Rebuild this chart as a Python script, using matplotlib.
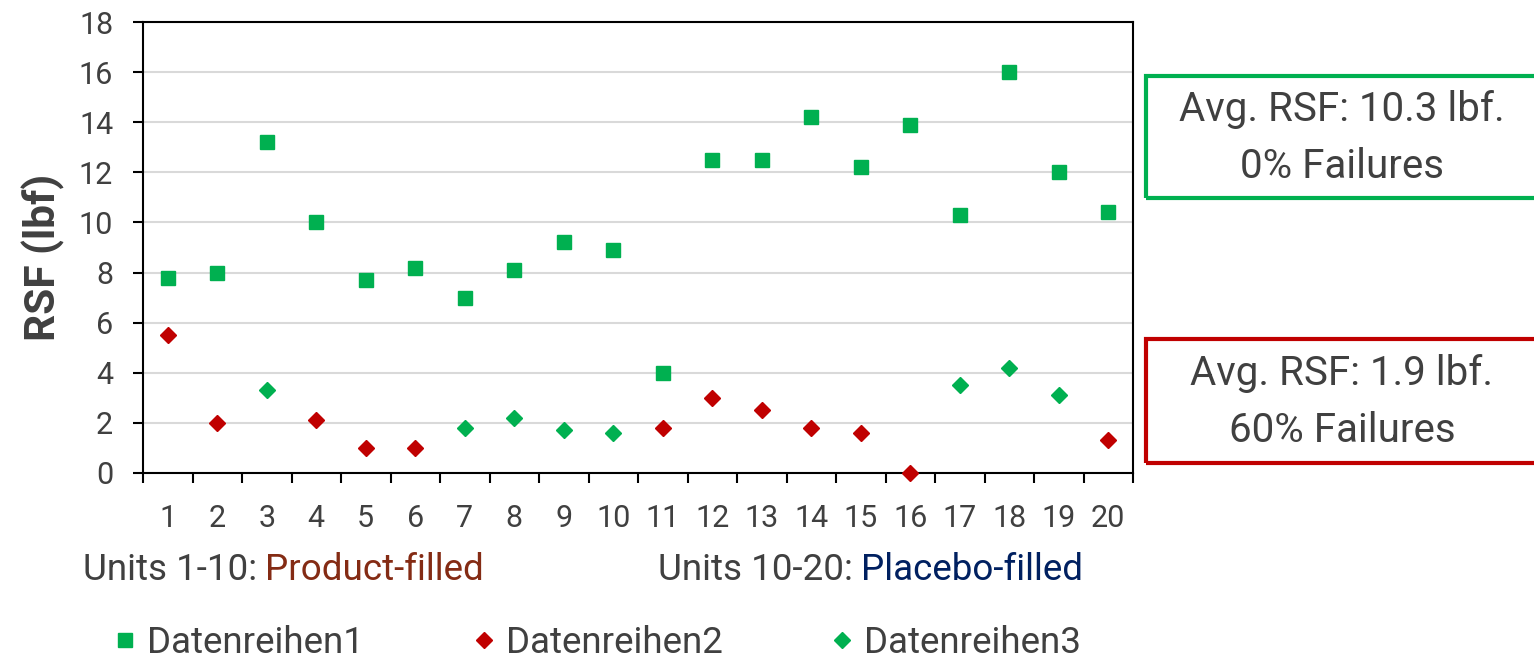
#!/usr/bin/env python3

import numpy as np
import matplotlib.pyplot as plt
from matplotlib.patches import Rectangle

plt.rcParams['font.family'] = ['Roboto', 'DejaVu Sans']

units = np.arange(1, 21)

rsf_1 = [7.8, 8.0, 13.2, 10.0, 7.7, 8.2, 7.0, 8.1, 9.2, 8.9,
         4.0, 12.5, 12.5, 14.2, 12.2, 13.9, 10.3, 16.0, 12.0, 10.4]
rsf_2 = [5.5, 2.0, None, 2.1, 1.0, 1.0, None, None, None, None,
         1.8, 3.0, 2.5, 1.8, 1.6, 0.0, None, None, None, 1.3]
rsf_3 = [None, None, 3.3, None, None, None, 1.8, 2.2, 1.7, 1.6,
         None, None, None, None, None, None, 3.5, 4.2, 3.1, None]

names = ['Datenreihen1', 'Datenreihen2', 'Datenreihen3']

box_good = 'Avg. RSF: 10.3 lbf.\n0% Failures'
box_bad = 'Avg. RSF: 1.9 lbf.\n60% Failures'

GREEN = '#00B050'
RED = '#C00000'
GREY = '#404040'

W, H = 1534, 661


def fx(px):
    return px / W


def fy(py):
    return 1 - py / H


def to_array(values):
    return np.array([np.nan if v is None else v for v in values], dtype=float)


figure = plt.figure(figsize=(W / 100, H / 100), dpi=100)
ax = figure.add_axes([fx(143), fy(473), fx(1133) - fx(143), fy(22) - fy(473)])

h1, = ax.plot(units, to_array(rsf_1), 's', color=GREEN, markersize=10.5, label=names[0], zorder=3)
h2, = ax.plot(units, to_array(rsf_2), 'D', color=RED, markersize=8.3, label=names[1], zorder=3, clip_on=False)
h3, = ax.plot(units, to_array(rsf_3), 'D', color=GREEN, markersize=8.3, label=names[2], zorder=3)

ax.set_xlim(0.5, 20.5)
ax.set_ylim(0, 18)
ax.set_yticks(np.arange(0, 19, 2))
ax.yaxis.grid(True, color='#d9d9d9', linewidth=1.5)
ax.set_axisbelow(True)

# category axis: ticks between units, labels in the middle
ax.set_xticks(np.arange(0.5, 21, 1))
ax.set_xticklabels([])
ax.set_xticks(units, minor=True)
ax.set_xticklabels([str(u) for u in units], minor=True)
ax.tick_params(axis='x', which='major', direction='out', length=7.5, width=1.5, color='black')
ax.tick_params(axis='x', which='minor', length=0, pad=22, labelsize=22, labelcolor=GREY)
ax.tick_params(axis='y', direction='out', length=7.5, width=1.5, pad=14, labelsize=22, labelcolor=GREY)

for spine in ax.spines.values():
    spine.set_linewidth(1.5)
    spine.set_color('black')

figure.text(fx(43), fy(257), 'RSF (lbf)', rotation=90, ha='center', va='center',
            fontsize=30.5, fontweight='bold', color=GREY)

# summary boxes on the right, running off the figure edge
for top, bottom, colour, text in [(76, 198, GREEN, box_good), (339, 463, RED, box_bad)]:
    figure.add_artist(Rectangle((fx(1146), fy(bottom)), fx(500), fy(top) - fy(bottom),
                                transform=figure.transFigure, fill=False,
                                edgecolor=colour, linewidth=3))
    figure.text(fx(1342), fy((top + bottom) / 2 + 1), text, ha='center', va='center',
                fontsize=29, color=GREY, linespacing=1.55)

# fill labels underneath the axis
for x0, prefix, tail, colour in [(83, 'Units 1-10:', 'Product-filled', '#842B14'),
                                 (658, 'Units 10-20:', 'Placebo-filled', '#002060')]:
    first = figure.text(fx(x0), fy(570), prefix, ha='left', va='center', fontsize=26.5, color=GREY)
    ax.annotate(tail, xy=(1, 0), xycoords=first, xytext=(6, 0), textcoords='offset points',
                ha='left', va='bottom', fontsize=26.5, color=colour, annotation_clip=False)

figure.legend(handles=[h1, h2, h3], loc='center left', bbox_to_anchor=(fx(114), fy(643)),
              ncol=3, frameon=False, fontsize=26.5, labelcolor=GREY, handlelength=0.6,
              handletextpad=0.3, columnspacing=2.95, borderpad=0, borderaxespad=0)

figure.savefig('out.png', dpi=100)
